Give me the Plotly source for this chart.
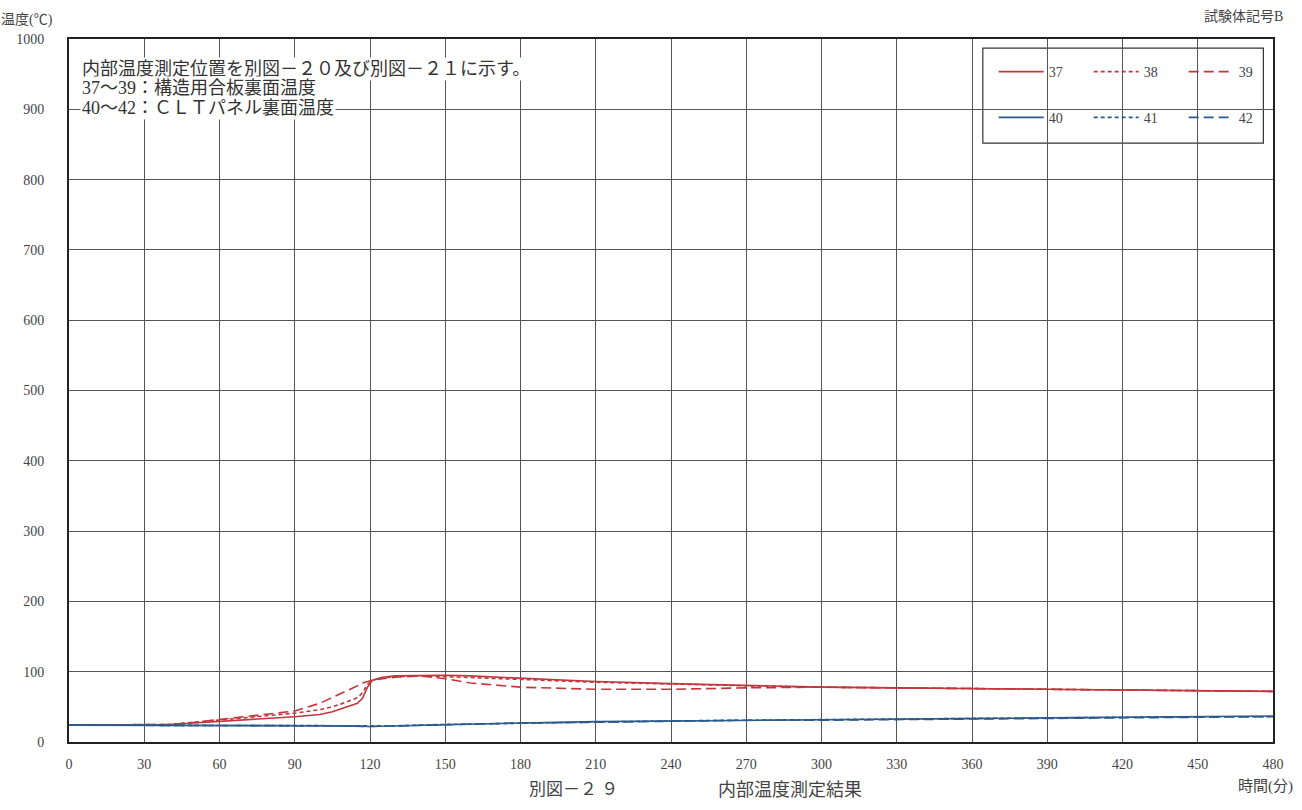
import plotly.graph_objects as go

# Time axis (minutes) and measured internal temperatures (°C)
t_red = [0, 30, 40, 50, 60, 70, 80, 90, 100, 105, 110, 115, 117, 119, 121, 125,
         130, 140, 150, 160, 180, 210, 240, 270, 300, 330, 360, 390, 420, 450, 480]
temp_37 = [24, 24, 25, 27, 29, 31, 34, 36, 39, 43, 49, 55, 62, 78, 88, 92,
           94, 95, 95, 94, 91, 86, 83, 80, 78, 77, 76, 75, 75, 73, 72]
temp_38 = [24, 24, 25, 28, 31, 34, 37, 41, 46, 50, 56, 63, 70, 82, 88, 91,
           93, 94, 93, 92, 89, 85, 82, 80, 78, 77, 76, 75, 74, 73, 72]
temp_39 = [24, 24, 25, 28, 32, 35, 39, 44, 55, 63, 72, 80, 84, 86, 88, 90,
           92, 94, 90, 84, 78, 75, 75, 77, 78, 77, 76, 75, 74, 73, 72]

t_blue = [0, 30, 60, 90, 110, 120, 130, 150, 180, 210, 240, 270, 300, 330,
          360, 390, 420, 450, 480]
temp_40 = [24, 24, 24, 24, 23, 22, 23, 25, 27, 29, 30, 31, 32, 33, 34, 34, 35, 36, 37]
temp_41 = [24, 24, 24, 24, 23, 23, 23, 25, 27, 29, 30, 31, 32, 33, 33, 34, 35, 36, 36]
temp_42 = [24, 24, 24, 24, 23, 22, 23, 24, 27, 28, 30, 31, 31, 32, 33, 34, 35, 35, 36]

x_ticks = list(range(0, 481, 30))
y_ticks = list(range(0, 1001, 100))

note_lines = [
    "内部温度測定位置を別図－２０及び別図－２１に示す。",
    "37～39：構造用合板裏面温度",
    "40～42：ＣＬＴパネル裏面温度",
]

RED = "#c3363c"
BLUE = "#2b5b8a"
SERIF = "Liberation Serif, Noto Sans CJK JP, serif"
TXT = "#444"

fig = go.Figure()

series = [
    ("37", t_red, temp_37, RED, "solid", "legend"),
    ("38", t_red, temp_38, RED, "4px,3px", "legend"),
    ("39", t_red, temp_39, RED, "10px,5px", "legend"),
    ("40", t_blue, temp_40, BLUE, "solid", "legend2"),
    ("41", t_blue, temp_41, BLUE, "4px,3px", "legend2"),
    ("42", t_blue, temp_42, BLUE, "10px,5px", "legend2"),
]
for name, tx, ty, col, dash, leg in series:
    fig.add_trace(go.Scatter(
        x=tx, y=ty, name=name, mode="lines",
        line=dict(color=col, width=1.6, dash=dash),
        legend=leg,
    ))

legend_common = dict(
    orientation="h",
    xanchor="left", yanchor="middle",
    bgcolor="rgba(0,0,0,0)", borderwidth=0,
    font=dict(family=SERIF, size=14, color=TXT),
    entrywidth=35, entrywidthmode="pixels",
    itemwidth=45,
)

fig.update_layout(
    width=1302, height=810,
    margin=dict(l=69, r=29, t=39, b=68, autoexpand=False),
    paper_bgcolor="white", plot_bgcolor="white",
    font=dict(family=SERIF, size=14, color=TXT),
    showlegend=True,
    legend=dict(x=0.768, y=0.953, **legend_common),
    legend2=dict(x=0.768, y=0.888, **legend_common),
    xaxis=dict(
        range=[0, 480], tickvals=x_ticks, ticktext=[str(v) for v in x_ticks],
        showgrid=True, gridcolor="#555", gridwidth=1,
        showline=True, linecolor="#222", linewidth=2, mirror=True,
        ticks="", zeroline=False, ticklabelstandoff=8,
        tickfont=dict(family=SERIF, size=14, color=TXT),
    ),
    yaxis=dict(
        range=[0, 1000], tickvals=y_ticks, ticktext=[str(v) for v in y_ticks],
        showgrid=True, gridcolor="#555", gridwidth=1,
        showline=True, linecolor="#222", linewidth=2, mirror=True,
        ticks="", zeroline=False, ticklabelstandoff=20,
        tickfont=dict(family=SERIF, size=14, color=TXT),
    ),
    shapes=[
        # legend frame
        dict(type="rect", xref="paper", yref="paper",
             x0=0.759, x1=0.992, y0=0.852, y1=0.987,
             line=dict(color="#333", width=1.2), fillcolor="white", layer="below"),
    ],
)

# note block in the upper-left corner, one line per annotation
note_y = [0.958, 0.930, 0.902]
for line, yy in zip(note_lines, note_y):
    fig.add_annotation(
        xref="paper", yref="paper", x=0.009, y=yy, xanchor="left", yanchor="middle",
        align="left", showarrow=False, text=line,
        bgcolor="white", borderpad=1,
        font=dict(family=SERIF, size=18, color="#333"),
    )

# axis titles and captions
fig.add_annotation(xref="paper", yref="paper", x=-0.058, y=1.027, xanchor="left", yanchor="middle",
                   text="温度(℃)", showarrow=False, font=dict(family=SERIF, size=14, color=TXT))
fig.add_annotation(xref="paper", yref="paper", x=1.01, y=1.032, xanchor="right", yanchor="middle",
                   text="試験体記号B", showarrow=False, font=dict(family=SERIF, size=14, color=TXT))
fig.add_annotation(xref="paper", yref="paper", x=1.018, y=-0.064, xanchor="right", yanchor="middle",
                   text="時間(分)", showarrow=False, font=dict(family=SERIF, size=15, color=TXT))
fig.add_annotation(xref="paper", yref="paper", x=0.419, y=-0.068, xanchor="center", yanchor="middle",
                   text="別図－２ ９", showarrow=False, font=dict(family=SERIF, size=17, color=TXT))
fig.add_annotation(xref="paper", yref="paper", x=0.599, y=-0.068, xanchor="center", yanchor="middle",
                   text="内部温度測定結果", showarrow=False, font=dict(family=SERIF, size=18, color=TXT))

fig.write_html("out.html")
